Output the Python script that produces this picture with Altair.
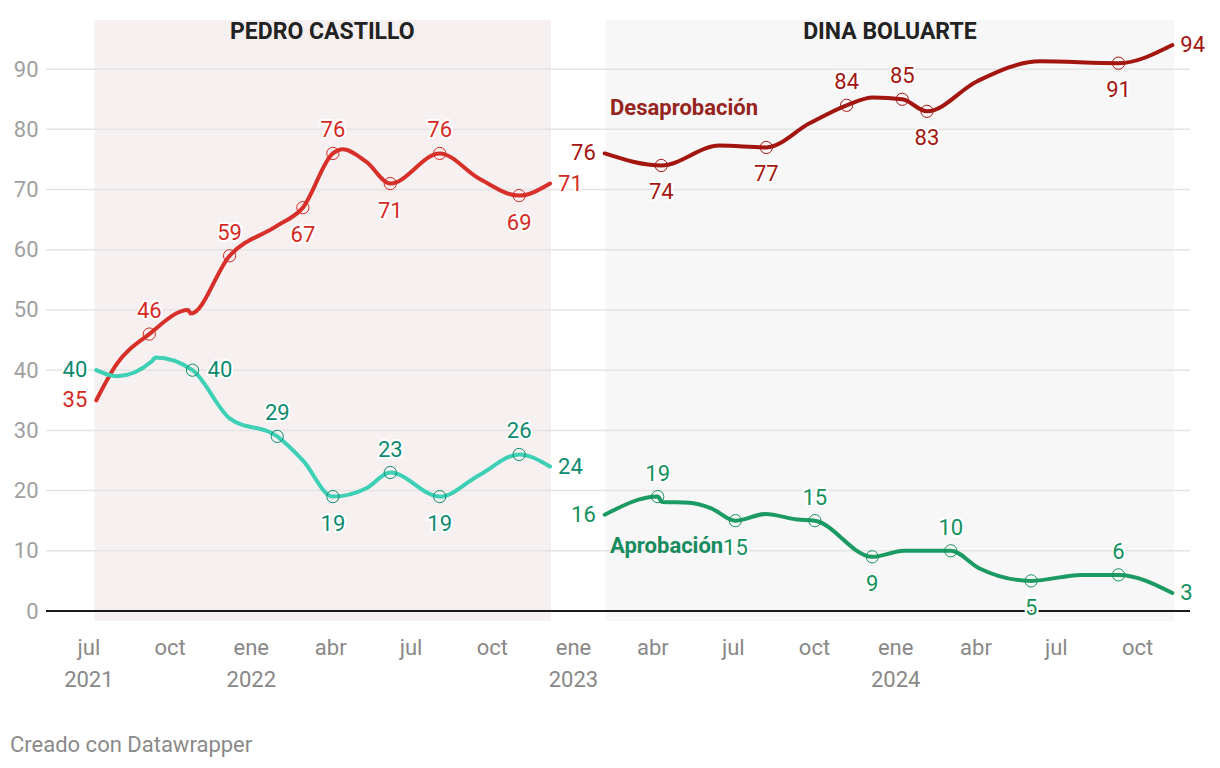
import altair as alt
import pandas as pd

# ---------------- data ----------------
MONTHS_ES = ["ene", "feb", "mar", "abr", "may", "jun", "jul", "ago", "sep", "oct", "nov", "dic"]
TICK_DATES = ["2021-07-01", "2021-10-01", "2022-01-01", "2022-04-01", "2022-07-01", "2022-10-01",
              "2023-01-01", "2023-04-01", "2023-07-01", "2023-10-01", "2024-01-01", "2024-04-01",
              "2024-07-01", "2024-10-01"]
X_DOMAIN = ["2021-05-14", "2024-11-30"]
Y_DOMAIN = [0, 98]
Y_TICKS = [0, 10, 20, 30, 40, 50, 60, 70, 80, 90]
GRID_VALUES = [10, 20, 30, 40, 50, 60, 70, 80, 90]

REGION_NAMES = ["PEDRO CASTILLO", "DINA BOLUARTE"]
REGION_START = ["2021-07-08", "2023-02-07"]
REGION_END = ["2022-12-07", "2024-11-12"]

# Pedro Castillo - desaprobación
PC_DES_DATES = ["2021-07-10", "2021-08-02", "2021-09-08", "2021-10-22", "2021-10-25", "2021-12-08",
                "2022-01-31", "2022-03-01", "2022-04-04", "2022-04-15", "2022-05-12", "2022-06-08",
                "2022-08-03", "2022-09-17", "2022-11-01", "2022-12-06"]
PC_DES_VALUES = [35, 41, 46, 50, 49.4, 59, 64, 67, 76, 76.7, 74.6, 71, 76, 71.8, 69, 71]
PC_DES_POS = ["left", "", "above", "", "", "above", "", "below", "above", "", "", "below",
              "above", "", "below", "right"]

# Pedro Castillo - aprobación
PC_APR_DATES = ["2021-07-10", "2021-08-02", "2021-09-11", "2021-09-15", "2021-10-27", "2021-12-08",
                "2022-01-31", "2022-03-01", "2022-04-04", "2022-05-12", "2022-06-08", "2022-08-03",
                "2022-09-17", "2022-11-01", "2022-12-06"]
PC_APR_VALUES = [40, 39, 41.5, 42.1, 40, 32, 29, 25, 19, 20.4, 23, 19, 22.6, 26, 24]
PC_APR_POS = ["left", "", "", "", "rightc", "", "above", "", "below", "", "above", "below",
              "", "above", "right"]

# Dina Boluarte - desaprobación
DB_DES_DATES = ["2023-02-06", "2023-04-11", "2023-06-16", "2023-08-08", "2023-09-26", "2023-11-07",
                "2023-12-07", "2024-01-09", "2024-02-06", "2024-04-03", "2024-06-13", "2024-09-10",
                "2024-11-10"]
DB_DES_VALUES = [76, 74, 77.3, 77, 81, 84, 85.3, 85, 83, 88, 91.3, 91, 94]
DB_DES_POS = ["left", "below", "", "below", "", "above", "", "above", "below", "", "", "below", "right"]

# Dina Boluarte - aprobación
DB_APR_DATES = ["2023-02-06", "2023-04-07", "2023-04-12", "2023-05-13", "2023-06-06", "2023-07-04",
                "2023-08-07", "2023-09-12", "2023-10-02", "2023-12-06", "2024-01-11", "2024-03-04",
                "2024-04-05", "2024-06-03", "2024-07-30", "2024-09-10", "2024-11-10"]
DB_APR_VALUES = [16, 19, 18.1, 18, 17.1, 15, 16.1, 15.2, 15, 9, 10, 10, 7.1, 5, 6, 6, 3]
DB_APR_POS = ["left", "above", "", "", "", "below", "", "", "above", "below", "", "above", "",
              "below", "", "above", "right"]

SERIES_NAMES = ["Desaprobación", "Aprobación"]
SERIES_NAME_DATES = ["2023-02-12", "2023-02-12"]
SERIES_NAME_VALUES = [83.5, 10.8]

FOOTER = "Creado con Datawrapper"

# ---------------- styles ----------------
STYLE = {
    "pc_des": {"line": "#d7302a", "text": "#d42a24"},
    "pc_apr": {"line": "#3dd0b4", "text": "#0d8a6f"},
    "db_des": {"line": "#a3150f", "text": "#a3150f"},
    "db_apr": {"line": "#1c9a63", "text": "#14905d"},
}
REGION_FILL = ["#f6f0f0", "#f7f7f7"]
SERIES_NAME_COLORS = ["#962420", "#168c5e"]
FONT = "Roboto"
W, H = 1144, 590


def ms(s):
    return int(pd.Timestamp(s, tz="UTC").value // 10**6)


rows = []
for key, dates, vals, pos in [
    ("pc_des", PC_DES_DATES, PC_DES_VALUES, PC_DES_POS),
    ("pc_apr", PC_APR_DATES, PC_APR_VALUES, PC_APR_POS),
    ("db_des", DB_DES_DATES, DB_DES_VALUES, DB_DES_POS),
    ("db_apr", DB_APR_DATES, DB_APR_VALUES, DB_APR_POS),
]:
    for d, v, p in zip(dates, vals, pos):
        rows.append(dict(series=key, date=d, value=v, pos=p, label=str(int(round(v))),
                         line_color=STYLE[key]["line"], text_color=STYLE[key]["text"]))
df = pd.DataFrame(rows)

regions = pd.DataFrame({"name": REGION_NAMES, "start": REGION_START, "end": REGION_END,
                        "fill": REGION_FILL})
regions["mid"] = [
    (pd.Timestamp(s) + (pd.Timestamp(e) - pd.Timestamp(s)) / 2).strftime("%Y-%m-%d")
    for s, e in zip(REGION_START, REGION_END)
]

grid_df = pd.DataFrame({"value": GRID_VALUES})
zero_df = pd.DataFrame({"value": [0]})
names_df = pd.DataFrame({"name": SERIES_NAMES, "date": SERIES_NAME_DATES,
                         "value": SERIES_NAME_VALUES, "color": SERIES_NAME_COLORS})
footer_df = pd.DataFrame({"t": [FOOTER]})

# ---------------- scales / axes ----------------
first_ms = ms(TICK_DATES[0])
months_js = "[" + ",".join(f"'{m}'" for m in MONTHS_ES) + "]"
label_expr = (f"[{months_js}[utcmonth(datum.value)], "
              f"(utcmonth(datum.value) == 0 || time(datum.value) == {first_ms}) ? '' + utcyear(datum.value) : '']")

x_scale = alt.Scale(type="utc", domain=[ms(X_DOMAIN[0]), ms(X_DOMAIN[1])])
x_axis = alt.Axis(values=[ms(t) for t in TICK_DATES], labelExpr=label_expr, title=None,
                  domain=False, ticks=False, grid=False, labelFont=FONT, labelFontSize=22,
                  labelColor="#888888", labelPadding=26, labelLineHeight=32,
                  labelBaseline="top", labelAlign="center", labelOverlap=False)
y_scale = alt.Scale(domain=Y_DOMAIN, nice=False, zero=True)
y_axis = alt.Axis(values=Y_TICKS, title=None, domain=False, ticks=False, grid=False,
                  labelFont=FONT, labelFontSize=22, labelColor="#a0a0a0", labelPadding=8)

X = alt.X("date:T", scale=x_scale, axis=x_axis)
Y = alt.Y("value:Q", scale=y_scale, axis=y_axis)

# ---------------- layers ----------------
shade = alt.Chart(regions).mark_rect().encode(
    x=alt.X("start:T", scale=x_scale, axis=x_axis), x2="end:T",
    y=alt.value(-1), y2=alt.value(600),
    color=alt.Color("fill:N", scale=None),
)
titles = alt.Chart(regions).mark_text(font=FONT, fontSize=23, fontWeight="bold", color="#222222",
                                      baseline="middle").encode(
    x=alt.X("mid:T", scale=x_scale, axis=x_axis), y=alt.value(11), text="name:N")

grid = alt.Chart(grid_df).mark_rule(color="#e4e4e4", strokeWidth=1.5).encode(
    y=Y, x=alt.value(0), x2=alt.value(W))
zero = alt.Chart(zero_df).mark_rule(color="#1a1a1a", strokeWidth=2).encode(
    y=Y, x=alt.value(0), x2=alt.value(W))

base = alt.Chart(df)
lines = base.mark_line(interpolate="monotone", strokeWidth=4, strokeCap="round",
                       strokeJoin="round").encode(
    x=X, y=Y, color=alt.Color("line_color:N", scale=None), detail="series:N")
rings = base.transform_filter(
    "datum.pos == 'above' || datum.pos == 'below' || datum.pos == 'rightc'"
).mark_point(filled=False, size=150, strokeWidth=1, opacity=1).encode(
    x=X, y=Y, color=alt.Color("text_color:N", scale=None))

OFFSETS = {
    "above": dict(dx=0, dy=-23, align="center"),
    "below": dict(dx=0, dy=27, align="center"),
    "left": dict(dx=-9, dy=0, align="right"),
    "right": dict(dx=8, dy=0, align="left"),
    "rightc": dict(dx=15, dy=0, align="left"),
}
label_layers = []
for p, o in OFFSETS.items():
    sub = base.transform_filter(f"datum.pos == '{p}'")
    label_layers.append(sub.mark_text(font=FONT, fontSize=22, baseline="middle", stroke="white",
                                      strokeWidth=4, strokeJoin="round", **o).encode(
        x=X, y=Y, text="label:N", color=alt.value("white")))
    label_layers.append(sub.mark_text(font=FONT, fontSize=22, baseline="middle", **o).encode(
        x=X, y=Y, text="label:N", color=alt.Color("text_color:N", scale=None)))

names = alt.Chart(names_df).mark_text(font=FONT, fontSize=22, fontWeight="bold", align="left",
                                      baseline="middle").encode(
    x=X, y=Y, text="name:N", color=alt.Color("color:N", scale=None))

footer = alt.Chart(footer_df).mark_text(font=FONT, fontSize=22, color="#8a8a8a", align="left",
                                        baseline="middle").encode(
    x=alt.value(-36), y=alt.value(724), text="t:N")

chart = alt.layer(shade, grid, zero, titles, lines, rings, *label_layers, names, footer).properties(
    width=W, height=H,
    autosize=alt.AutoSizeParams(type="none"),
    padding={"left": 46, "top": 21, "right": 30, "bottom": 157},
    background="white",
).configure_view(strokeWidth=0)

chart.save("out.html", embed_options={"renderer": "svg", "actions": False})
